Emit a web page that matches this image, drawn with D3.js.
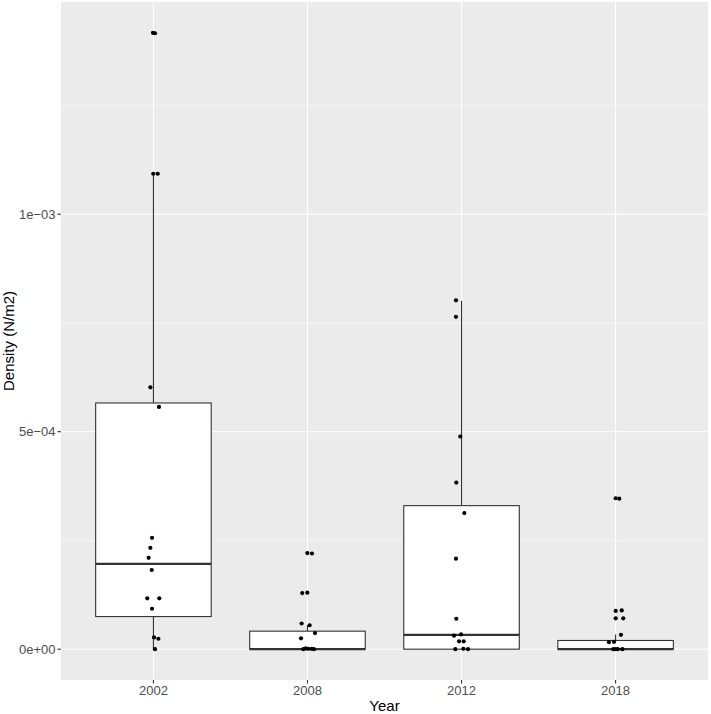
<!DOCTYPE html>
<html>
<head>
<meta charset="utf-8">
<script src="https://cdn.jsdelivr.net/npm/d3@7"></script>
<style>
  html, body { margin: 0; padding: 0; background: #ffffff; }
  svg { display: block; }
</style>
</head>
<body>
<svg id="chart" width="711" height="714"></svg>
<script>
// ---------- data (values in units of 1e-3 N/m2) ----------
const years = ["2002", "2008", "2012", "2018"];

// box statistics as drawn
const boxLower  = [0,     0,      0,     0];
const boxQ1     = [0.075, 0,      0,     0];
const boxMedian = [0.196, 0,      0.033, 0];
const boxQ3     = [0.566, 0.0414, 0.330, 0.020];
const boxUpper  = [1.092, 0.055,  0.801, 0.034];

// jittered observations: value and horizontal jitter (fraction of category step)
const pts2002 = [1.417, 1.416, 1.093, 1.093, 0.602, 0.557, 0.256, 0.233, 0.210, 0.182, 0.117, 0.117, 0.093, 0.027, 0.024, 0];
const jit2002 = [-0.003, 0.010, -0.001, 0.028, -0.020, 0.036, -0.009, -0.020, -0.031, -0.011, -0.040, 0.038, -0.009, 0.004, 0.032, 0.010];
const pts2008 = [0.221, 0.220, 0.129, 0.130, 0.059, 0.055, 0.037, 0.025, 0, 0.002, 0.001, 0.001, 0];
const jit2008 = [-0.001, 0.029, -0.034, -0.001, -0.038, 0.014, 0.049, -0.042, -0.027, -0.012, 0.005, 0.027, 0.042];
const pts2012 = [0.802, 0.764, 0.489, 0.383, 0.313, 0.208, 0.070, 0.031, 0.034, 0.018, 0.018, 0, 0.001, 0];
const jit2012 = [-0.036, -0.036, -0.008, -0.034, 0.018, -0.036, -0.034, -0.049, -0.003, -0.016, 0.014, -0.040, 0.012, 0.042];
const pts2018 = [0.347, 0.346, 0.088, 0.089, 0.071, 0.071, 0.033, 0.016, 0.017, 0, 0, 0, 0];
const jit2018 = [0.001, 0.024, 0.001, 0.040, 0.001, 0.050, 0.035, -0.043, -0.010, -0.015, 0.001, 0.014, 0.044];

const yMajorTicks = [0, 0.5, 1.0];
const yMinorTicks = [0.25, 0.75, 1.25];
const yTickLabels = ["0e+00", "5e\u221204", "1e\u221203"];
const xTitle = "Year";
const yTitle = "Density (N/m2)";

// ---------- layout ----------
const panel = { left: 61, right: 708, top: 2, bottom: 680 };
const svg = d3.select("#chart");
const font = "'Liberation Sans', Arial, Helvetica, sans-serif";

const allPts = [pts2002, pts2008, pts2012, pts2018];
const allJit = [jit2002, jit2008, jit2012, jit2018];
const yMax = d3.max(allPts.flat().concat(boxUpper));
const yMin = 0;
const pad = (yMax - yMin) * 0.05;

const y = d3.scaleLinear().domain([yMin - pad, yMax + pad]).range([panel.bottom, panel.top]);
const x = d3.scalePoint().domain(years).range([panel.left, panel.right]).padding(0.6);
const step = x.step();
const boxW = step * 0.75;

// panel background
svg.append("rect")
  .attr("x", panel.left).attr("y", panel.top)
  .attr("width", panel.right - panel.left).attr("height", panel.bottom - panel.top)
  .attr("fill", "#EBEBEB");

// minor grid
svg.append("g").selectAll("line").data(yMinorTicks).join("line")
  .attr("x1", panel.left).attr("x2", panel.right)
  .attr("y1", d => y(d)).attr("y2", d => y(d))
  .attr("stroke", "#ffffff").attr("stroke-width", 0.55);

// major grid
svg.append("g").selectAll("line").data(yMajorTicks).join("line")
  .attr("x1", panel.left).attr("x2", panel.right)
  .attr("y1", d => y(d)).attr("y2", d => y(d))
  .attr("stroke", "#ffffff").attr("stroke-width", 1.1);
svg.append("g").selectAll("line").data(years).join("line")
  .attr("x1", d => x(d)).attr("x2", d => x(d))
  .attr("y1", panel.top).attr("y2", panel.bottom)
  .attr("stroke", "#ffffff").attr("stroke-width", 1.1);

// boxes
const boxes = svg.append("g");
years.forEach((yr, i) => {
  const cx = x(yr);
  const g = boxes.append("g");
  g.append("line").attr("x1", cx).attr("x2", cx)
    .attr("y1", y(boxQ3[i])).attr("y2", y(boxUpper[i]))
    .attr("stroke", "#333333").attr("stroke-width", 1.1);
  g.append("line").attr("x1", cx).attr("x2", cx)
    .attr("y1", y(boxQ1[i])).attr("y2", y(boxLower[i]))
    .attr("stroke", "#333333").attr("stroke-width", 1.1);
  g.append("rect")
    .attr("x", cx - boxW / 2).attr("width", boxW)
    .attr("y", y(boxQ3[i])).attr("height", y(boxQ1[i]) - y(boxQ3[i]))
    .attr("fill", "#ffffff").attr("stroke", "#333333").attr("stroke-width", 1.1);
  g.append("line")
    .attr("x1", cx - boxW / 2).attr("x2", cx + boxW / 2)
    .attr("y1", y(boxMedian[i])).attr("y2", y(boxMedian[i]))
    .attr("stroke", "#333333").attr("stroke-width", 2.2);
});

// points
const pg = svg.append("g");
years.forEach((yr, i) => {
  const data = allPts[i].map((v, k) => ({ v, j: allJit[i][k] }));
  pg.selectAll(null).data(data).join("circle")
    .attr("cx", d => x(yr) + d.j * step)
    .attr("cy", d => y(d.v))
    .attr("r", 2.1)
    .attr("fill", "#000000");
});

// y axis ticks and labels
const yAx = svg.append("g");
yAx.selectAll("line").data(yMajorTicks).join("line")
  .attr("x1", panel.left - 3.6).attr("x2", panel.left)
  .attr("y1", d => y(d)).attr("y2", d => y(d))
  .attr("stroke", "#333333").attr("stroke-width", 1.1);
yAx.selectAll("text").data(yMajorTicks).join("text")
  .attr("x", panel.left - 5.5).attr("y", d => y(d))
  .attr("dy", "0.35em")
  .attr("text-anchor", "end")
  .attr("font-family", font).attr("font-size", 13).attr("fill", "#4D4D4D")
  .text((d, i) => yTickLabels[i]);

// x axis ticks and labels
const xAx = svg.append("g");
xAx.selectAll("line").data(years).join("line")
  .attr("x1", d => x(d)).attr("x2", d => x(d))
  .attr("y1", panel.bottom).attr("y2", panel.bottom + 3.6)
  .attr("stroke", "#333333").attr("stroke-width", 1.1);
xAx.selectAll("text").data(years).join("text")
  .attr("x", d => x(d)).attr("y", 694.5)
  .attr("text-anchor", "middle")
  .attr("font-family", font).attr("font-size", 13).attr("fill", "#4D4D4D")
  .text(d => d);

// titles
svg.append("text")
  .attr("x", (panel.left + panel.right) / 2).attr("y", 711)
  .attr("text-anchor", "middle")
  .attr("font-family", font).attr("font-size", 15).attr("fill", "#000000")
  .text(xTitle);
svg.append("text")
  .attr("transform", `translate(13.5, ${(panel.top + panel.bottom) / 2}) rotate(-90)`)
  .attr("text-anchor", "middle")
  .attr("font-family", font).attr("font-size", 15).attr("fill", "#000000")
  .text(yTitle);
</script>
</body>
</html>
